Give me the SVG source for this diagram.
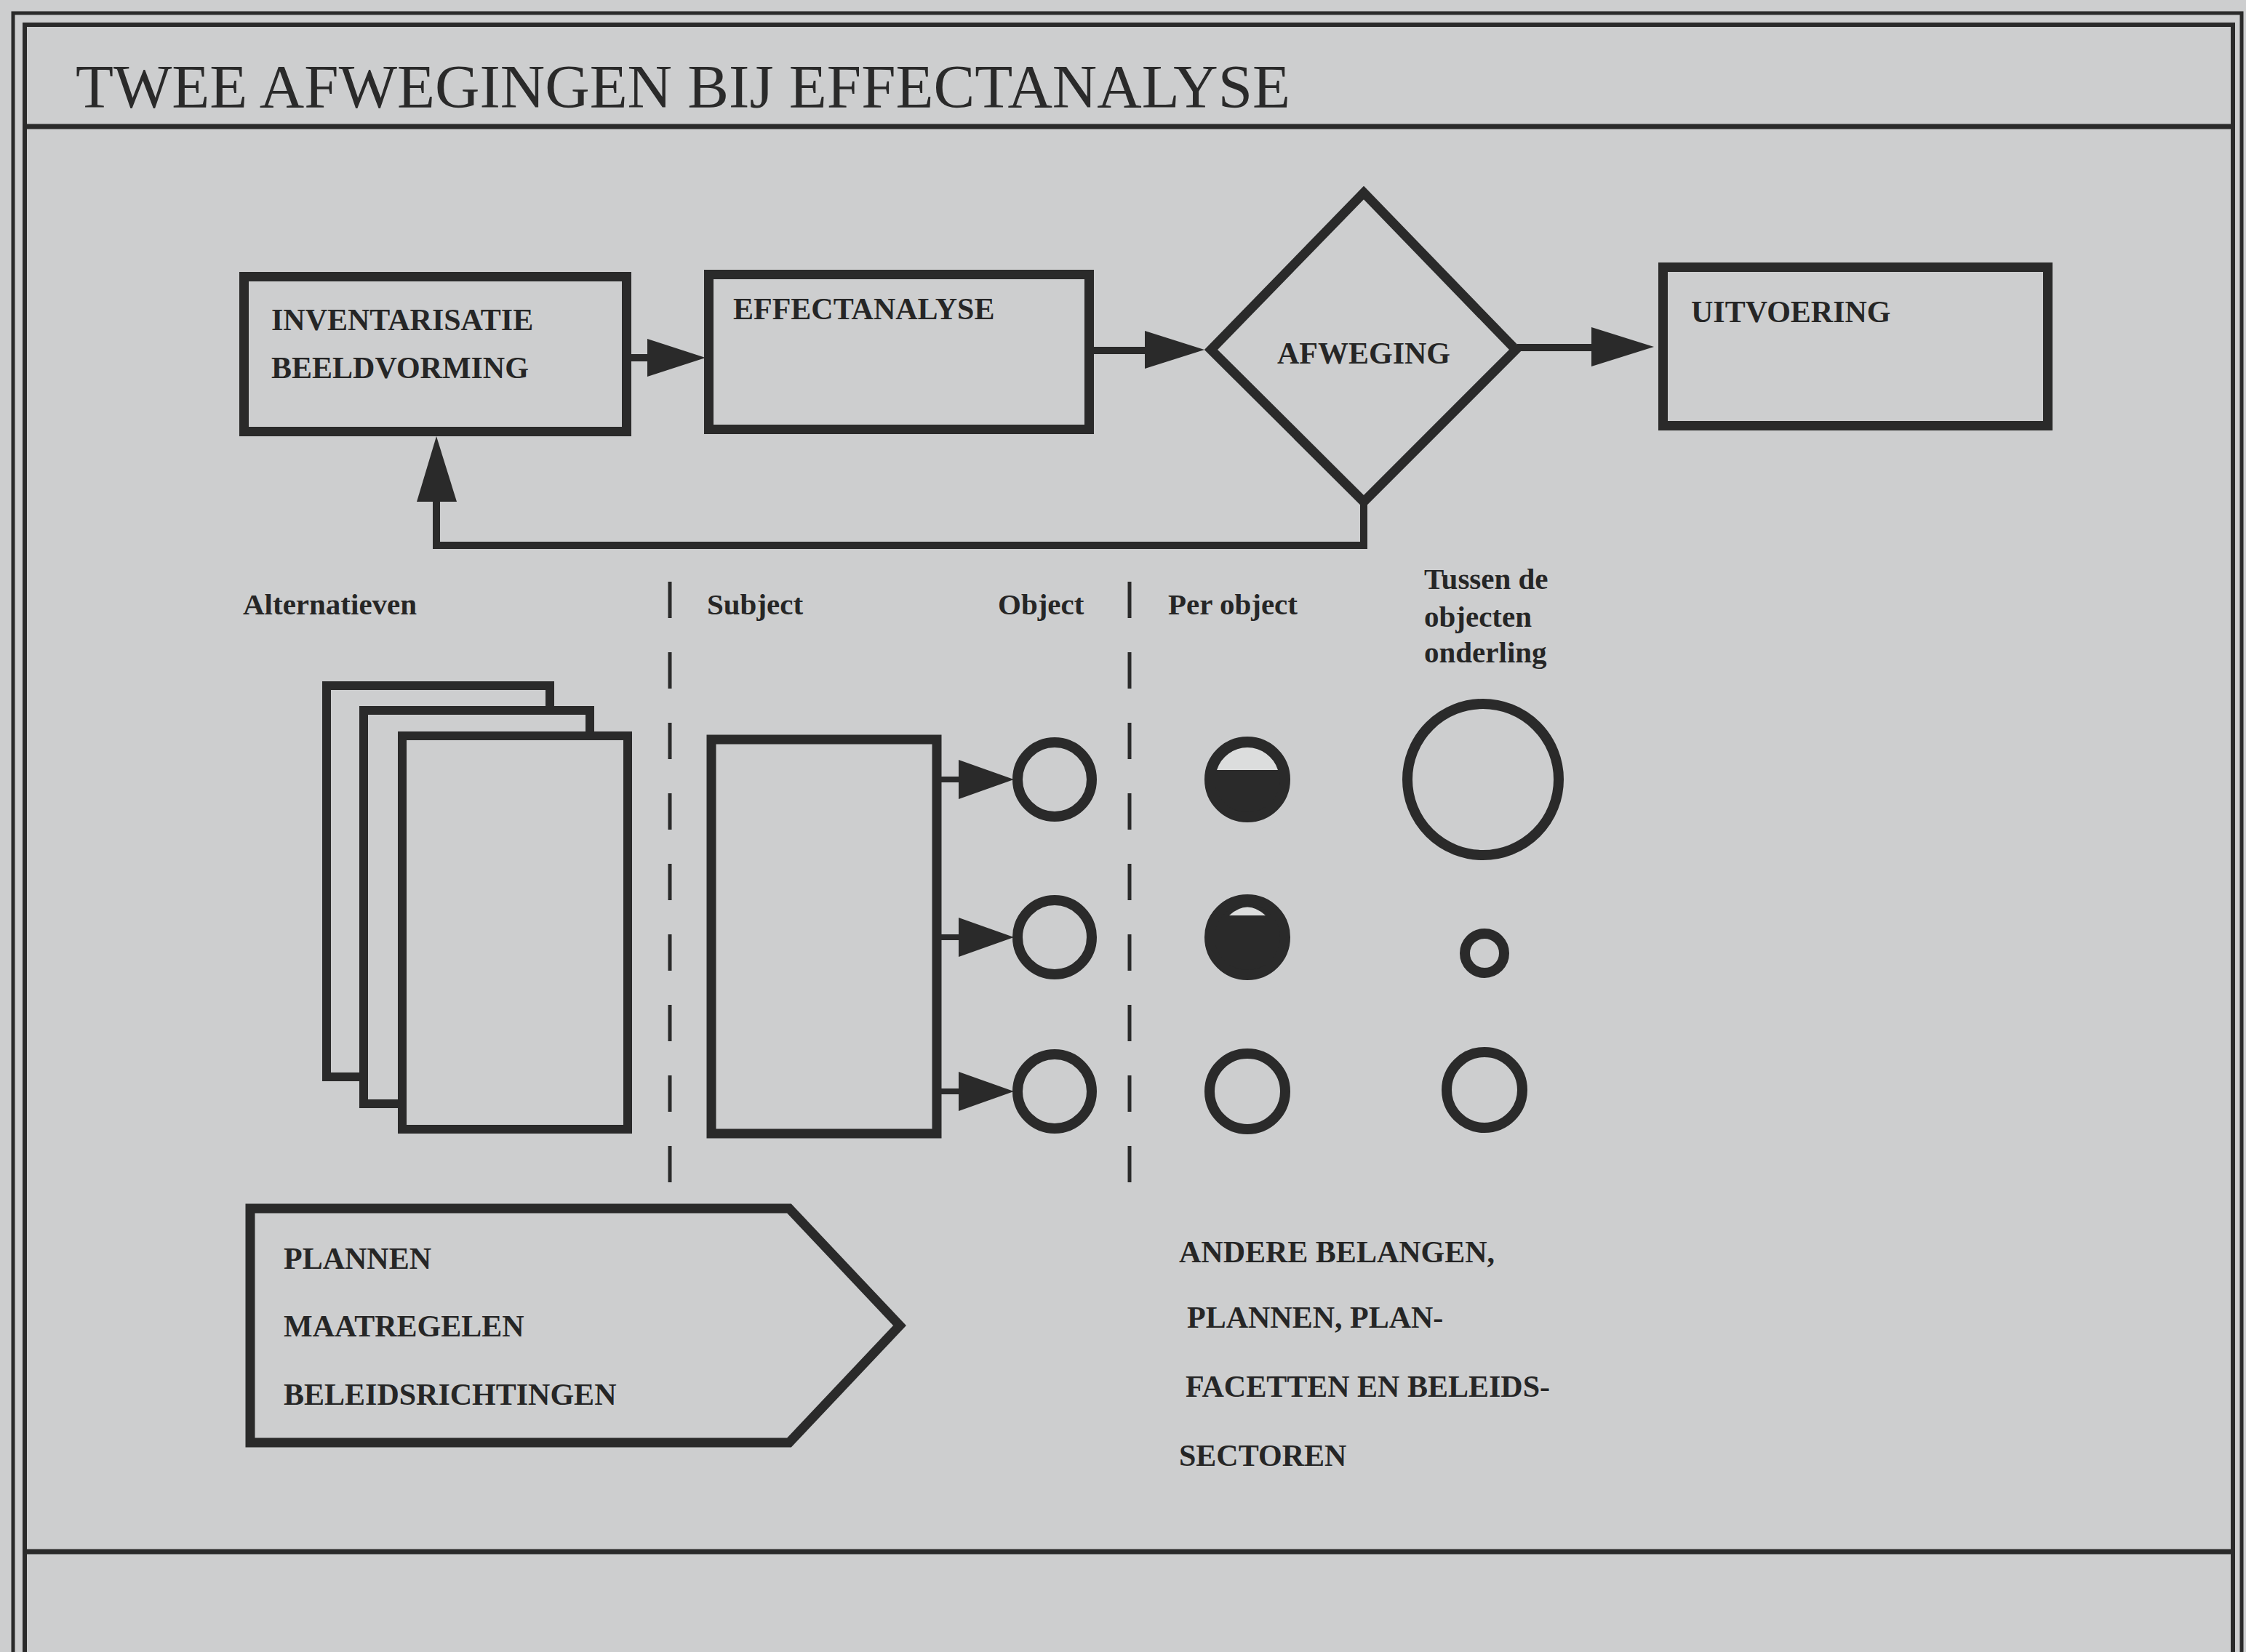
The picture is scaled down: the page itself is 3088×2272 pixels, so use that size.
<svg xmlns="http://www.w3.org/2000/svg" width="3088" height="2272" viewBox="0 0 3088 2272">
<defs>
<style>
.ln{stroke:#2a2a2a;fill:none;stroke-linejoin:miter}
.box{stroke:#2a2a2a;fill:none;stroke-width:13}
.pg{stroke:#2a2a2a;fill:#cdcecf;stroke-width:12}
.hd{fill:#2a2a2a;stroke:none}
.ring{stroke:#2a2a2a;fill:none;stroke-width:14}
.fill{stroke:#2a2a2a;fill:#2a2a2a;stroke-width:14}
.cap{fill:#dcdddd;stroke:none}
.dash{stroke:#2a2a2a;stroke-width:5;stroke-dasharray:50 47;fill:none}
.t{font-family:"Liberation Serif","Times New Roman",serif;font-weight:bold;font-size:42px;fill:#262626}
.s{font-family:"Liberation Serif","Times New Roman",serif;font-weight:bold;font-size:41px;fill:#262626}
.title{font-family:"Liberation Serif","Times New Roman",serif;font-size:84px;fill:#2a2a2a}
</style>
</defs>
<rect x="0" y="0" width="3088" height="2272" fill="#cdcecf"/>

<g id="frame">
<path class="ln" stroke-width="5" d="M18 2272 V18 H3082 V2272"/>
<path class="ln" stroke-width="6" d="M34 2272 V34 H3070 V2272"/>
<line class="ln" stroke-width="7" x1="34" y1="174" x2="3070" y2="174"/>
<line class="ln" stroke-width="7" x1="34" y1="2134" x2="3070" y2="2134"/>
<text class="title" x="104" y="148" textLength="1670" lengthAdjust="spacingAndGlyphs">TWEE AFWEGINGEN BIJ EFFECTANALYSE</text>
</g>

<g id="connectors">
<line class="ln" stroke-width="10" x1="861" y1="492" x2="895" y2="492"/>
<polygon class="hd" points="890,466 970,492 890,518"/>
<line class="ln" stroke-width="10" x1="1498" y1="482" x2="1580" y2="482"/>
<polygon class="hd" points="1574,455 1656,481 1574,507"/>
<line class="ln" stroke-width="10" x1="2086" y1="478" x2="2195" y2="478"/>
<polygon class="hd" points="2188,450 2274,477 2188,504"/>
<polyline class="ln" stroke-width="10" points="1875,690 1875,750 600,750 600,685"/>
<polygon class="hd" points="573,690 600,600 628,690"/>
<line class="ln" stroke-width="8" x1="1288" y1="1072" x2="1325" y2="1072"/>
<polygon class="hd" points="1318,1045 1394,1072 1318,1099"/>
<line class="ln" stroke-width="8" x1="1288" y1="1289" x2="1325" y2="1289"/>
<polygon class="hd" points="1318,1262 1394,1289 1318,1316"/>
<line class="ln" stroke-width="8" x1="1288" y1="1501" x2="1325" y2="1501"/>
<polygon class="hd" points="1318,1474 1394,1501 1318,1528"/>
</g>

<g id="node-inventarisatie">
<rect class="box" x="335.5" y="380.5" width="526" height="213"/>
<text class="t" x="373" y="454">INVENTARISATIE</text>
<text class="t" x="373" y="520">BEELDVORMING</text>
</g>
<g id="node-effectanalyse">
<rect class="box" x="974.5" y="377.5" width="523" height="213"/>
<text class="t" x="1008" y="439">EFFECTANALYSE</text>
</g>
<g id="node-afweging">
<polygon class="box" stroke-width="14" points="1875,265 2084,481 1875,690 1665,481"/>
<text class="t" x="1875" y="500" text-anchor="middle">AFWEGING</text>
</g>
<g id="node-uitvoering">
<rect class="box" x="2286.5" y="367.5" width="529" height="218"/>
<text class="t" x="2325" y="443">UITVOERING</text>
</g>

<g id="labels">
<text class="s" x="334" y="845">Alternatieven</text>
<text class="s" x="972" y="845">Subject</text>
<text class="s" x="1372" y="845">Object</text>
<text class="s" x="1606" y="845">Per object</text>
<text class="s" x="1958" y="810">Tussen de</text>
<text class="s" x="1958" y="862">objecten</text>
<text class="s" x="1958" y="911">onderling</text>
</g>

<g id="dividers">
<line class="dash" x1="921" y1="800" x2="921" y2="1634"/>
<line class="dash" x1="1553" y1="800" x2="1553" y2="1634"/>
</g>

<g id="node-alternatieven">
<rect class="pg" x="449" y="943" width="307" height="538"/>
<rect class="pg" x="500" y="977" width="311" height="541"/>
<rect class="pg" x="553" y="1012" width="310" height="541"/>
</g>

<g id="node-subject">
<rect class="box" x="978" y="1017" width="310" height="542" stroke-width="12"/>
</g>

<g id="node-objects">
<circle class="ring" cx="1450" cy="1072" r="51"/>
<circle class="ring" cx="1450" cy="1289" r="51"/>
<circle class="ring" cx="1450" cy="1501" r="51"/>
</g>

<g id="node-per-object">
<circle class="fill" cx="1715" cy="1072" r="52"/>
<path class="cap" d="M1673,1059 A44,44 0 0 1 1757,1059 Z"/>
<circle class="fill" cx="1715" cy="1289" r="52"/>
<path class="cap" d="M1690,1259 Q1715,1236 1740,1259 Z"/>
<circle class="ring" cx="1715" cy="1501" r="52"/>
</g>

<g id="node-tussen">
<circle class="ring" cx="2039" cy="1072" r="104" stroke-width="13"/>
<circle class="ring" cx="2041" cy="1311" r="27" stroke-width="11"/>
<circle class="ring" cx="2041" cy="1499" r="52"/>
</g>

<g id="node-plannen">
<path class="box" stroke-width="15" d="M344 1662 L1085 1662 L1237 1823 L1085 1984 L344 1984 Z"/>
<text class="t" x="390" y="1745">PLANNEN</text>
<text class="t" x="390" y="1838">MAATREGELEN</text>
<text class="t" x="390" y="1932">BELEIDSRICHTINGEN</text>
</g>

<g id="node-andere">
<text class="t" x="1621" y="1736">ANDERE BELANGEN,</text>
<text class="t" x="1632" y="1826">PLANNEN, PLAN-</text>
<text class="t" x="1630" y="1921">FACETTEN EN BELEIDS-</text>
<text class="t" x="1621" y="2016">SECTOREN</text>
</g>
</svg>
